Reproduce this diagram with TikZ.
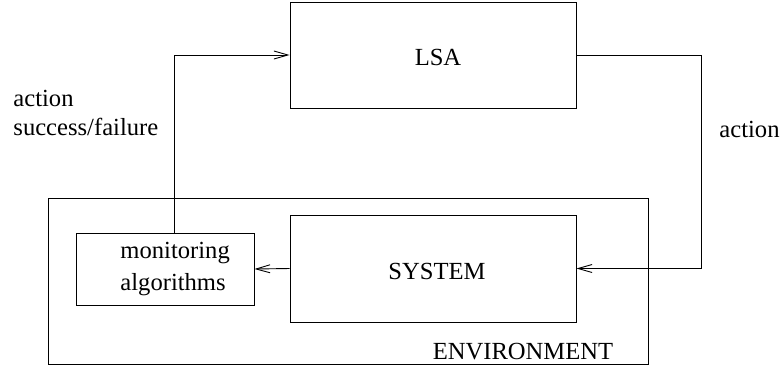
\documentclass[tikz,border=0pt]{standalone}
\usepackage{fontspec}
\setmainfont{Liberation Serif}
\usetikzlibrary{arrows.meta}
\begin{document}
\begin{tikzpicture}[x=1pt,y=-1pt,
  line width=0.9pt,
  box/.style={draw, rectangle, inner sep=0pt},
  lbl/.style={inner sep=0pt, font=\fontsize{24.6}{29}\selectfont},
  arr/.style={-{Straight Barb[length=14pt,width=8pt,line width=0.9pt]}}]
  \useasboundingbox (0,0) rectangle (783,368);
  % outer environment frame with its caption
  \node[box, minimum width=600, minimum height=166] (env) at (348,281) {};
  \node[lbl] (envlabel) at (523,352) {ENVIRONMENT};
  % main blocks
  \node[box, minimum width=286, minimum height=106] (lsa) at (433,55) {};
  \node[lbl] (lsatext) at (438,57) {LSA};
  \node[box, minimum width=286, minimum height=107] (sys) at (433,268.5) {};
  \node[lbl] (systext) at (437,271) {SYSTEM};
  \node[box, minimum width=178, minimum height=72] (mon) at (165,269) {};
  \node[lbl, align=left, anchor=west, font=\fontsize{24.6}{32}\selectfont] (montext) at (120,269) {monitoring\\algorithms};
  % connectors
  \draw[arr] (lsa.east) -- ++(125,0) |- (sys.east);
  \draw[arr] (sys.west) -- (mon.east);
  \draw[arr] ([xshift=9pt]mon.north) |- (lsa.west);
  % connector labels
  \node[lbl, align=left, anchor=west] (fb) at (13,113) {action\\success/failure};
  \node[lbl, anchor=west] (act) at (719,129) {action};
\end{tikzpicture}
\end{document}
